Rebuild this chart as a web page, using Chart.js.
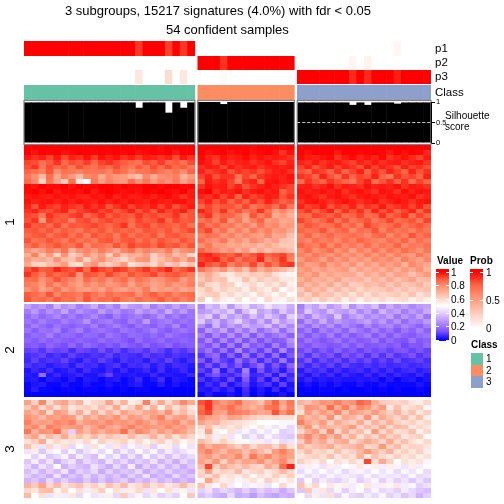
<!DOCTYPE html>
<html><head><meta charset="utf-8">
<script src="https://cdn.jsdelivr.net/npm/chart.js@4"></script>
<style>
html,body{margin:0;padding:0;background:#fff;width:504px;height:504px;overflow:hidden}
canvas{position:absolute;left:0;top:0}
.t{position:absolute;white-space:nowrap;line-height:1;font-family:"Liberation Sans",Arial,sans-serif;color:#000;transform:translateY(-50%)}
.b{position:absolute}
</style></head><body>
<canvas id="heat" width="504" height="504"></canvas>
<canvas id="sil" width="504" height="504"></canvas>
<script>
const titleLines=["3 subgroups, 15217 signatures (4.0%) with fdr < 0.05","54 confident samples"];
const groupSizes=[23,13,18];
const classColors=["#66C2A5","#FC8D62","#8DA0CB"];
const classLabels=["1","2","3"];
const clusterLabels=["1","2","3"];
const valueTicks=[1,0.8,0.6,0.4,0.2,0];
const probTicks=[1,0.5,0];
const silTicks=[0,0.5,1];
// membership probabilities, percent, per sample
const p1=[100,100,100,100,100,100,100,100,100,100,100,100,100,100,100,87,100,100,100,85,100,87,100, 0,0,0,0,0,0,0,0,0,0,0,0,0, 0,0,0,0,0,0,0,0,0,0,0,0,0,4,0,0,0,0];
const p2=[0,0,0,0,0,0,0,0,0,0,0,0,0,0,0,0,0,0,0,0,0,0,0, 100,100,100,88,100,100,100,100,100,100,100,100,100, 0,0,0,0,0,0,0,5,0,6,0,0,0,0,0,0,0,0];
const p3=[0,0,0,0,0,0,0,0,0,0,0,0,0,0,0,12,0,0,0,18,0,12,0, 0,0,0,3,0,0,0,0,0,0,0,0,0, 100,100,100,100,100,100,100,90,100,90,100,100,100,93,100,100,100,100];
const silhouette=[.99,.99,.99,.99,.99,.99,.99,.99,.99,.99,.99,.99,.99,.99,.99,.86,.99,.99,.99,.74,.99,.86,.99, 1,1,1,.95,1,1,1,1,1,1,1,1,1, .99,.99,.99,.99,.99,.99,.99,.93,.99,.93,.99,.99,.99,.96,.99,.99,.99,.99];
// heat values, percent
const c1g1=[
[100,100,100,100,100,100,100,100,100,100,100,100,100,100,100,100,100,100,99,100,100,100,100],
[100,98,100,99,100,98,99,100,100,99,100,99,100,99,100,98,99,100,99,100,97,100,100],
[97,94,96,92,97,91,96,94,98,93,98,96,98,94,96,93,97,96,94,96,91,97,94],
[92,91,86,89,94,87,91,89,93,87,92,94,91,89,87,85,91,89,93,87,89,85,91],
[90,94,84,91,87,89,84,91,87,85,89,87,91,87,84,89,85,91,87,91,87,89,84],
[88,85,82,90,79,85,84,81,85,84,85,81,88,85,79,84,85,88,84,81,85,79,88],
[84,78,68,86,72,82,76,68,80,82,72,80,76,76,70,66,80,72,78,80,82,70,76],
[87,80,62,84,74,64,86,56,50,84,76,82,78,76,86,78,84,76,82,78,84,74,80],
[99,98,100,99,99,100,98,100,99,99,100,100,99,100,99,99,100,100,99,100,100,99,99],
[99,100,98,100,97,99,99,98,100,97,99,100,99,98,99,98,100,99,100,99,98,100,97],
[97,98,97,96,98,97,98,96,96,98,97,99,96,98,96,97,98,96,98,99,97,94,97],
[98,96,97,98,96,98,96,98,97,96,98,96,98,96,98,97,96,98,97,96,98,98,96],
[96,90,97,94,92,96,94,92,97,94,96,90,94,97,92,96,94,97,92,96,90,94,97],
[94,96,92,90,94,96,89,92,94,96,92,94,89,92,96,90,94,89,96,92,94,96,90],
[92,90,84,94,90,89,92,94,87,90,94,89,92,90,89,94,90,92,89,90,94,87,90],
[90,94,76,92,89,90,82,90,92,87,90,92,89,90,87,92,89,90,94,87,92,89,90],
[94,89,90,87,92,85,90,89,90,92,89,87,90,94,85,90,92,87,90,89,87,90,85],
[89,90,87,90,85,89,87,83,89,87,90,85,89,87,89,85,90,89,87,90,85,89,92],
[87,89,90,85,89,90,85,89,83,90,87,89,83,90,85,89,87,90,83,89,90,87,85],
[90,85,87,90,87,83,89,85,87,83,89,90,85,89,90,85,89,85,90,87,85,90,87],
[85,89,83,87,90,87,85,90,80,87,85,83,90,85,92,89,90,87,92,89,90,85,90],
[78,72,76,83,78,85,70,78,81,76,83,78,72,81,85,76,81,78,76,83,72,78,81],
[70,82,66,76,60,78,62,68,78,70,76,62,78,66,72,70,76,62,70,76,66,72,60],
[76,70,72,68,78,68,66,76,62,72,78,70,66,60,68,76,78,62,66,72,78,70,80],
[72,62,60,66,70,76,60,58,72,78,66,62,68,76,58,62,66,60,70,62,68,60,66],
[90,94,89,90,96,92,90,94,87,96,92,89,94,92,87,90,94,89,92,96,87,90,94],
[94,89,83,90,87,89,92,78,90,89,85,92,87,83,90,87,89,92,85,89,90,87,83],
[85,87,78,83,90,85,81,76,87,81,85,78,83,87,78,85,81,76,78,83,85,76,81],
[83,81,76,85,78,83,78,74,81,76,81,76,78,83,74,81,78,74,76,81,76,78,83],
[78,83,74,78,85,76,81,76,74,78,74,81,76,74,78,76,83,72,76,74,78,72,76],
[89,87,83,90,81,87,85,83,89,85,81,87,83,85,87,78,85,89,83,87,81,85,87],
[90,85,87,83,89,85,87,81,90,83,87,85,89,83,81,87,83,85,89,83,87,81,85]];
const c1g2=[
[100,100,100,100,100,100,100,99,100,100,100,99,100],
[100,98,99,100,98,99,100,98,99,100,98,94,98],
[99,96,94,98,96,97,99,96,98,96,97,96,94],
[98,96,92,97,94,96,97,94,96,98,94,92,96],
[94,97,96,92,97,94,96,97,94,96,97,96,97],
[96,92,94,96,90,94,92,94,90,94,96,97,94],
[92,96,90,94,94,85,92,88,94,96,97,96,98],
[88,97,94,96,92,82,94,96,88,97,98,96,97],
[94,98,96,97,92,96,90,94,96,98,96,94,92],
[98,100,94,97,96,98,94,97,98,96,97,88,92],
[96,94,97,92,96,88,96,92,94,97,96,90,94],
[92,96,90,94,88,92,88,94,90,96,92,88,90],
[88,92,88,90,90,86,92,84,88,90,86,92,84],
[96,92,88,94,86,90,84,88,94,86,76,80,74],
[90,94,84,88,88,82,76,90,82,88,72,76,70],
[84,88,82,90,78,84,74,82,88,76,78,72,74],
[90,84,88,82,84,78,82,76,84,78,80,74,76],
[88,92,80,86,76,82,76,84,78,82,76,78,72],
[82,86,84,78,82,76,80,76,74,80,72,74,66],
[86,80,78,84,74,78,72,80,76,70,74,66,64],
[78,84,76,76,72,74,70,72,68,72,68,64,64],
[88,82,80,74,78,70,76,66,72,66,70,70,66],
[94,96,92,90,88,92,86,90,94,88,90,92,84],
[92,94,96,88,92,84,90,88,96,82,88,94,82],
[96,90,88,92,82,88,84,92,80,90,84,92,94],
[84,78,72,78,68,74,66,80,70,76,72,68,62],
[68,72,64,58,56,62,60,64,62,66,58,54,52],
[64,70,64,66,54,56,66,58,64,60,62,56,56],
[70,60,58,64,62,52,56,60,54,60,56,62,54],
[60,66,58,62,58,60,54,62,58,54,62,50,56],
[58,62,64,56,60,54,58,52,60,56,52,58,50],
[64,50,60,54,52,58,50,56,50,60,54,52,58]];
const c1g3=[
[100,100,100,100,100,100,100,100,100,100,100,100,100,100,100,100,100,100],
[100,98,100,100,100,97,100,100,99,100,100,99,97,100,98,100,99,95],
[99,97,96,98,99,94,97,99,96,98,96,99,94,96,98,95,92,97],
[96,94,97,94,96,97,94,92,96,94,97,94,96,97,94,96,97,94],
[92,96,90,94,97,92,96,94,90,97,92,96,94,90,96,92,94,90],
[90,88,94,92,88,94,88,92,96,88,94,90,96,92,88,96,90,94],
[94,92,88,96,90,86,94,88,92,90,96,88,84,94,90,92,88,96],
[86,94,90,88,94,90,88,84,92,96,86,90,94,88,94,86,92,88],
[96,97,94,96,98,94,97,96,94,98,96,97,96,98,94,97,96,94],
[98,96,97,98,96,98,94,97,98,96,94,98,97,94,98,96,98,97],
[97,98,96,94,97,98,96,94,97,98,97,96,98,97,96,98,94,96],
[94,97,98,96,94,96,98,96,94,96,98,94,96,98,97,94,97,98],
[96,92,94,97,90,94,92,96,90,94,92,97,92,94,96,92,96,90],
[90,94,88,92,96,88,94,90,94,88,96,90,94,88,92,96,88,94],
[88,86,92,90,88,92,86,88,92,86,88,94,88,90,94,86,92,88],
[92,88,84,88,92,84,90,84,88,90,84,88,92,86,88,90,84,92],
[86,90,88,84,86,90,84,88,82,92,88,84,86,90,84,88,90,86],
[88,84,86,90,82,86,88,80,86,84,90,82,88,84,86,82,88,84],
[82,88,80,84,88,82,84,86,84,80,86,88,80,86,82,90,84,88],
[84,80,86,82,84,80,86,82,88,84,82,80,86,82,88,80,86,82],
[88,84,82,88,80,86,80,84,80,86,80,84,82,88,80,84,82,86],
[80,86,78,82,86,78,82,74,82,78,84,78,84,80,86,82,78,84],
[82,78,84,80,76,82,76,80,76,82,76,82,76,82,78,76,84,78],
[76,82,80,74,82,76,80,74,78,74,80,76,80,74,82,78,74,80],
[80,74,76,82,74,78,72,78,70,76,72,78,74,78,70,80,76,72],
[74,78,72,76,72,74,76,68,74,70,74,70,76,70,76,72,78,70],
[76,72,78,70,74,70,72,72,66,72,68,74,68,74,72,66,72,76],
[70,76,70,72,68,74,66,68,70,64,70,66,72,66,70,74,66,68],
[74,68,72,66,72,64,70,62,64,68,66,70,64,70,64,66,70,64],
[64,72,66,70,62,68,62,66,60,64,62,64,68,62,66,62,64,66],
[68,62,70,64,66,60,64,58,64,58,64,60,62,64,60,66,58,62],
[60,64,58,64,58,62,54,60,54,60,56,60,56,58,60,54,58,54]];
const c2g1=[
[30,24,28,22,34,26,30,22,26,32,22,28,22,34,28,26,32,22,28,24,30,24,30],
[22,28,20,26,22,30,20,26,22,20,28,22,26,20,22,30,24,28,22,32,22,28,20],
[18,22,17,20,24,18,22,17,20,24,18,15,22,17,20,22,17,20,26,18,22,17,20],
[20,17,22,18,17,22,18,20,26,17,20,22,17,15,22,18,28,17,20,22,17,20,18],
[17,22,18,15,20,17,15,18,17,22,15,18,22,17,14,20,17,15,20,17,24,15,18],
[20,15,20,18,22,14,18,22,15,18,20,17,15,20,18,15,18,22,17,14,18,20,17],
[15,18,17,22,15,18,17,14,18,17,14,20,17,14,18,17,15,18,15,20,17,15,14],
[17,14,18,15,17,15,14,17,15,14,18,15,17,15,12,18,14,15,18,14,15,17,15],
[14,15,12,17,14,12,17,12,18,15,12,15,12,17,14,12,17,12,14,17,12,14,15],
[10,11,8,12,10,11,7,11,10,8,12,8,11,7,10,11,8,12,10,7,10,8,11],
[7,8,10,6,8,6,10,7,6,8,7,10,6,8,7,6,10,7,8,6,8,7,6],
[6,10,6,8,7,10,6,4,8,6,10,7,4,8,6,7,4,8,6,10,6,4,7],
[8,6,7,4,6,7,4,8,6,7,4,6,8,4,7,6,8,4,7,4,7,6,4],
[3,6,4,7,3,4,6,3,7,4,3,6,3,6,3,4,6,3,7,3,4,6,3],
[4,3,18,3,6,3,4,6,3,3,6,10,4,3,4,3,3,6,3,4,3,3,6],
[3,4,1,4,3,1,4,1,4,3,1,3,4,1,3,6,1,3,7,1,4,3,1],
[1,3,4,1,1,3,1,1,3,1,1,3,1,1,3,4,1,1,4,1,3,1,1],
[1,4,1,1,0,1,1,0,1,1,0,1,0,1,0,1,1,0,0,1,0,0,0],
[0,0,0,0,0,0,0,0,0,0,0,0,0,0,0,0,0,0,0,0,0,0,0]];
const c2g2=[
[24,36,32,42,28,38,42,32,36,44,38,40,32],
[28,30,36,32,40,24,36,44,30,34,26,38,30],
[34,40,24,38,28,34,26,36,28,38,32,24,40],
[38,26,34,24,32,40,30,24,34,24,38,28,34],
[26,18,34,22,30,24,34,28,30,36,24,32,24],
[16,28,22,30,18,28,20,30,18,24,30,18,28],
[22,14,24,16,26,16,26,14,24,16,20,24,16],
[14,24,13,24,14,24,13,22,13,20,14,16,26],
[18,13,22,11,22,11,24,14,18,11,22,13,22],
[13,20,11,20,10,24,11,18,10,20,10,24,11],
[8,14,18,8,16,8,20,8,16,8,18,7,14],
[14,7,16,10,7,18,10,16,7,14,8,20,8],
[7,13,7,14,8,14,7,11,18,7,13,7,16],
[10,6,18,4,11,6,22,4,13,6,10,4,11],
[4,10,13,8,6,10,18,6,7,11,4,13,6],
[8,4,7,4,11,4,14,4,10,3,11,3,8],
[3,7,4,10,3,7,10,3,6,8,3,10,3],
[4,3,6,3,6,1,7,1,4,1,6,1,4],
[1,4,1,1,3,1,6,0,3,0,1,3,0]];
const c2g3=[
[22,34,30,38,28,32,40,26,34,30,36,24,32,26,30,24,28,30],
[24,38,30,26,36,30,28,34,24,30,22,34,26,30,22,28,24,32],
[30,22,34,28,24,38,22,28,32,24,28,24,30,20,28,22,30,20],
[18,28,22,32,22,28,24,22,26,30,22,28,20,26,18,24,22,28],
[24,18,26,20,26,18,24,20,16,24,18,22,24,18,24,20,16,22],
[16,22,14,22,18,22,16,24,20,16,22,16,20,14,20,16,22,16],
[20,14,20,16,22,14,20,14,18,22,14,20,14,20,16,14,18,20],
[14,20,16,13,16,20,14,18,14,16,20,13,18,14,13,20,14,16],
[16,13,18,16,13,14,18,13,18,13,14,16,13,16,11,14,13,18],
[11,16,10,14,11,16,11,14,10,14,11,13,10,13,14,10,13,10],
[13,8,14,10,13,8,13,10,13,8,13,8,13,8,10,13,8,11],
[8,13,7,11,8,11,7,11,8,11,7,10,7,11,7,8,10,7],
[10,6,10,7,10,6,10,7,6,8,6,8,6,7,8,6,7,8],
[4,8,6,8,4,7,4,6,7,4,7,4,7,4,6,7,4,6],
[6,3,7,4,7,3,6,4,3,6,3,6,3,6,4,3,6,3],
[3,6,3,4,3,4,3,3,4,3,4,1,4,1,3,4,1,3],
[1,3,1,3,1,3,1,1,3,1,1,3,1,1,1,1,3,1],
[0,1,0,1,1,0,1,0,0,1,0,1,0,1,0,0,1,0],
[0,0,0,0,0,0,0,0,0,0,0,0,0,0,0,0,0,0]];
const c3g1=[
[74,62,80,60,70,74,64,70,55,60,62,74,60,70,54,58,82,60,72,60,70,80,72],
[64,74,60,68,58,68,56,60,62,58,66,60,72,56,62,74,58,70,54,68,58,66,56],
[74,68,76,60,76,72,60,72,58,72,60,70,62,74,68,66,72,74,68,78,62,68,60],
[78,74,68,76,74,78,76,62,74,68,76,72,78,68,76,74,68,76,82,68,74,76,68],
[82,74,76,74,80,78,82,70,76,78,74,80,76,78,74,80,76,70,78,76,80,70,76],
[76,80,70,82,78,74,76,78,68,74,80,74,70,76,82,74,78,76,74,80,74,76,70],
[84,70,78,76,86,68,40,74,68,76,70,76,74,86,70,80,76,68,76,70,78,74,68],
[68,74,60,68,62,72,60,66,60,68,60,66,62,60,68,60,62,70,60,68,58,66,60],
[58,62,72,54,60,56,58,54,60,52,62,56,58,62,54,60,52,58,62,54,60,52,56],
[66,56,44,60,46,58,42,50,44,58,48,44,56,42,48,44,56,40,48,54,42,50,44],
[44,54,38,46,50,40,48,38,44,48,42,50,38,46,40,50,42,48,38,46,40,44,48],
[50,40,48,38,42,48,36,46,40,36,48,40,46,36,44,36,48,38,44,36,44,38,42],
[38,46,36,44,32,40,44,34,42,38,34,44,36,42,34,40,36,44,34,40,32,42,36],
[42,34,44,38,50,34,40,36,34,44,38,32,42,34,46,32,40,34,42,34,40,32,38],
[36,42,34,40,36,44,32,40,36,42,32,40,34,38,36,42,32,38,34,40,34,36,32],
[40,34,38,32,44,32,38,34,42,34,40,34,38,32,40,34,44,32,36,32,42,34,38],
[34,38,32,42,34,40,34,32,38,32,38,32,36,40,32,38,34,40,34,38,32,36,32],
[70,64,74,60,68,58,62,66,58,62,56,66,60,68,56,60,66,58,62,56,60,68,58],
[60,56,66,68,52,60,50,58,46,56,62,50,58,46,54,60,44,56,50,58,46,52,44],
[68,50,58,44,54,46,56,42,50,44,46,54,42,64,44,52,42,46,40,44,40,50,64]];
const c3g2=[
[90,94,82,76,80,86,74,72,66,78,88,74,84],
[86,94,78,80,86,78,74,70,74,84,86,70,82],
[88,92,76,74,84,82,80,76,72,74,90,78,86],
[80,74,72,68,74,72,66,62,60,58,60,58,58],
[74,68,70,62,60,58,56,54,50,50,50,48,48],
[60,66,56,60,56,60,54,50,56,48,44,48,42],
[56,74,54,50,58,44,48,42,48,44,50,40,42],
[54,60,46,56,44,50,40,46,40,48,42,40,38],
[68,62,56,62,56,52,50,46,54,44,52,42,44],
[78,70,76,74,68,62,70,60,66,68,60,70,58],
[76,82,74,68,76,74,66,74,68,62,76,82,74],
[72,76,68,76,72,80,68,84,74,80,72,78,74],
[74,68,78,62,74,68,74,72,78,68,74,80,68],
[68,92,62,72,66,62,68,62,60,72,66,86,96],
[60,74,58,62,60,68,56,60,62,56,60,68,60],
[62,58,66,56,58,54,60,52,58,54,62,56,62],
[52,74,60,54,56,48,54,58,48,62,56,48,56],
[66,56,48,60,46,50,46,48,54,44,50,60,48],
[40,44,36,42,38,34,40,34,40,36,38,32,38],
[36,40,34,32,42,32,34,28,36,32,30,34,32]];
const c3g3=[
[70,66,72,78,76,82,76,78,88,84,72,64,62,60,62,56,54,60],
[62,78,76,70,86,72,82,70,80,76,68,76,56,66,56,60,62,48],
[58,76,68,76,70,80,66,76,72,68,76,68,62,70,60,66,56,62],
[76,68,72,66,78,60,72,68,62,78,60,72,66,60,68,58,66,54],
[82,72,68,76,62,72,66,62,72,60,70,62,70,62,58,62,56,60],
[68,78,62,72,68,66,70,76,60,68,62,72,60,68,66,56,60,56],
[60,70,76,62,80,60,72,62,68,56,76,60,68,58,60,66,54,60],
[72,80,70,78,68,76,62,70,58,66,60,70,62,66,56,60,62,50],
[62,76,68,72,62,70,72,60,66,72,68,60,72,60,66,58,54,60],
[70,62,66,68,72,62,66,68,72,60,62,76,62,68,58,62,60,56],
[60,68,60,62,58,66,58,62,68,76,68,62,70,58,62,56,62,54],
[56,60,62,58,66,56,62,58,70,56,66,60,56,62,56,60,54,58],
[62,56,54,60,50,58,54,60,54,92,58,72,62,50,58,54,58,48],
[46,54,48,44,54,46,50,48,56,48,54,46,54,48,44,54,46,50],
[42,48,44,50,44,48,42,46,48,44,50,44,48,42,48,44,50,42],
[48,42,46,42,48,44,46,44,42,48,42,46,44,46,42,48,42,44],
[38,50,40,46,42,40,44,48,40,44,48,40,46,40,44,38,44,38],
[66,54,60,50,56,48,54,46,50,56,46,54,48,56,46,48,40,44],
[38,64,46,56,42,48,40,46,50,42,48,42,44,40,46,42,38,36],
[50,42,54,44,58,40,48,42,40,46,42,48,40,44,38,42,34,40]];

const STOPS=[[0,[0,0,255]],[.125,[125,81,255]],[.25,[178,139,255]],[.375,[221,196,255]],[.5,[255,255,255]],[.625,[255,206,190]],[.75,[255,158,130]],[.875,[255,104,71]],[1,[255,0,0]]];
function colorOf(v){
  v=Math.max(0,Math.min(1,v));
  for(let i=1;i<STOPS.length;i++){
    if(v<=STOPS[i][0]){
      const [a,ca]=STOPS[i-1],[b,cb]=STOPS[i],t=(v-a)/(b-a);
      return "rgb("+ca.map((c,k)=>Math.round(c+(cb[k]-c)*t)).join(",")+")";
    }
  }
  return "rgb(255,0,0)";
}
const probColor=p=>colorOf(.5+p/200);
const GAP=0.39;
const sampleX=[];
const groupSpans=[];
{let off=0;groupSizes.forEach((n)=>{groupSpans.push([off,off+n]);for(let i=0;i<n;i++)sampleX.push(off+i+.5);off+=n+GAP;});}
const xMax=sampleX[sampleX.length-1]+.5;
const sampleClass=[];groupSizes.forEach((n,g)=>{for(let i=0;i<n;i++)sampleClass.push(classColors[g]);});

const tracks=[{v:p1,a:41,b:56},{v:p2,a:56,b:70},{v:p3,a:70,b:84}];
const clusters=[{g:[c1g1,c1g2,c1g3],a:145,b:301.5},{g:[c2g1,c2g2,c2g3],a:304,b:397},{g:[c3g1,c3g2,c3g3],a:400,b:498}];
const datasets=[];
const BAR_OVERLAP=1.08;
function band(vals,colors,a,b){
  datasets.push({data:vals.map((_,i)=>({x:sampleX[i],y:[a,b]})),backgroundColor:colors,borderWidth:0,borderSkipped:false,grouped:false,barPercentage:BAR_OVERLAP,categoryPercentage:1});
}
tracks.forEach(t=>band(t.v,t.v.map(probColor),t.a,t.b));
band(sampleClass,sampleClass,85,100);
clusters.forEach(cl=>{
  const n=cl.g[0].length,h=(cl.b-cl.a)/n;
  for(let r=0;r<n;r++){
    const vals=[].concat(cl.g[0][r],cl.g[1][r],cl.g[2][r]);
    band(vals,vals.map(v=>colorOf(v/100)),Math.round(cl.a+r*h),Math.round(cl.a+(r+1)*h));
  }
});
const xScale={type:"linear",min:0,max:xMax,display:false,offset:false};
new Chart(document.getElementById("heat"),{
  type:"bar",
  data:{datasets},
  options:{responsive:false,animation:false,layout:{padding:{left:24,right:73,top:0,bottom:0}},
    plugins:{legend:{display:false},tooltip:{enabled:false}},
    scales:{x:xScale,y:{type:"linear",reverse:true,min:0,max:504,display:false}}}
});
const silFrame={id:"silFrame",afterDatasetsDraw(ch){
  const c=ch.ctx,x=ch.scales.x,y=ch.scales.y,top=ch.chartArea.top,bot=ch.chartArea.bottom;
  c.save();
  c.strokeStyle="#808080";c.lineWidth=1.2;
  groupSpans.forEach(s=>{const l=x.getPixelForValue(s[0]),r=x.getPixelForValue(s[1]);c.strokeRect(l,top+.5,r-l,bot-top);});
  const s3=groupSpans[2],p=y.getPixelForValue(.5);
  c.strokeStyle="#c8c8c8";c.lineWidth=1;c.setLineDash([3,2]);
  c.beginPath();c.moveTo(x.getPixelForValue(s3[0]),p);c.lineTo(x.getPixelForValue(s3[1]),p);c.stroke();
  c.setLineDash([]);
  c.strokeStyle="#000";
  const ax=ch.chartArea.right+.5;
  c.beginPath();c.moveTo(ax,y.getPixelForValue(1));c.lineTo(ax,y.getPixelForValue(0));c.stroke();
  c.restore();
}};
new Chart(document.getElementById("sil"),{
  type:"bar",
  data:{datasets:[{data:silhouette.map((v,i)=>({x:sampleX[i],y:v})),backgroundColor:"#000",borderWidth:0,grouped:false,barPercentage:BAR_OVERLAP,categoryPercentage:1}]},
  options:{responsive:false,animation:false,layout:{padding:{left:24,right:0,top:100,bottom:360}},
    plugins:{legend:{display:false},tooltip:{enabled:false}},
    scales:{x:xScale,
      y:{type:"linear",position:"right",min:-1/41,max:1+2/41,
        afterFit(s){s.width=73;},
        afterBuildTicks(s){s.ticks=silTicks.map(v=>({value:v}));},
        border:{display:false},
        grid:{drawOnChartArea:false,drawTicks:true,tickLength:4,color:"#000"},
        ticks:{autoSkip:false,maxRotation:0,padding:1,color:"#000",font:{family:"Liberation Sans",size:7.5},callback:v=>String(v)}}}},
  plugins:[silFrame]
});
function text(s,x,y,size,extra){
  const d=document.createElement("div");d.className="t";d.textContent=s;
  d.style.left=x+"px";d.style.top=y+"px";d.style.fontSize=size+"px";
  if(extra)Object.assign(d.style,extra);
  document.body.appendChild(d);return d;
}
function box(x,y,w,h,bg){
  const d=document.createElement("div");d.className="b";
  d.style.cssText+=`left:${x}px;top:${y}px;width:${w}px;height:${h}px;background:${bg}`;
  document.body.appendChild(d);return d;
}
text(titleLines[0],65,10,13);
text(titleLines[1],166,28.5,13);
["p1","p2","p3"].forEach((s,i)=>text(s,435,49+i*14,11.5));
text("Class",435,92.5,11.5);
text("Silhouette",445,116,10);
text("score",445,127,10);
[[clusterLabels[0],222],[clusterLabels[1],350],[clusterLabels[2],449]].forEach(([s,y])=>{
  const d=text(s,10,y,13.5);d.style.transform="translate(-50%,-50%) rotate(-90deg)";
});
text("Value",437,261,10,{fontWeight:"bold"});
text("Prob",470,261,10,{fontWeight:"bold"});
text("Class",471,345,10,{fontWeight:"bold"});
const vTop=271.5,vBot=340;
const vy=v=>vBot-(vBot-vTop)*v;
const vb=box(436,269,13,72,"#fff");
vb.style.background="linear-gradient(to bottom,"+STOPS.slice().reverse().map(([v,c])=>`rgb(${c.join(",")}) ${((vy(v)-269)/72*100).toFixed(1)}%`).join(",")+")";
valueTicks.forEach(v=>{
  const y=Math.round(vy(v));
  box(436,y,3,1,"#fff");box(446,y,3,1,"#fff");
  text(String(v),451,y+.5,10);
});
const pTop=271.5,pBot=328;
const py=p=>pBot-(pBot-pTop)*p;
const pb=box(470,269,13,62,"#fff");
pb.style.background="linear-gradient(to bottom,"+STOPS.filter(s=>s[0]>=.5).reverse().map(([v,c])=>`rgb(${c.join(",")}) ${((py((v-.5)*2)-269)/62*100).toFixed(1)}%`).join(",")+")";
probTicks.forEach(p=>{
  const y=Math.round(py(p));
  box(470,y,3,1,"#fff");box(480,y,3,1,"#fff");
  text(String(p),486,y+.5,10);
});
classColors.forEach((c,i)=>{
  box(471,353+i*11.5,12,11.5,c);
  text(classLabels[i],486,359+i*11.5,10);
});
</script>
</body></html>
